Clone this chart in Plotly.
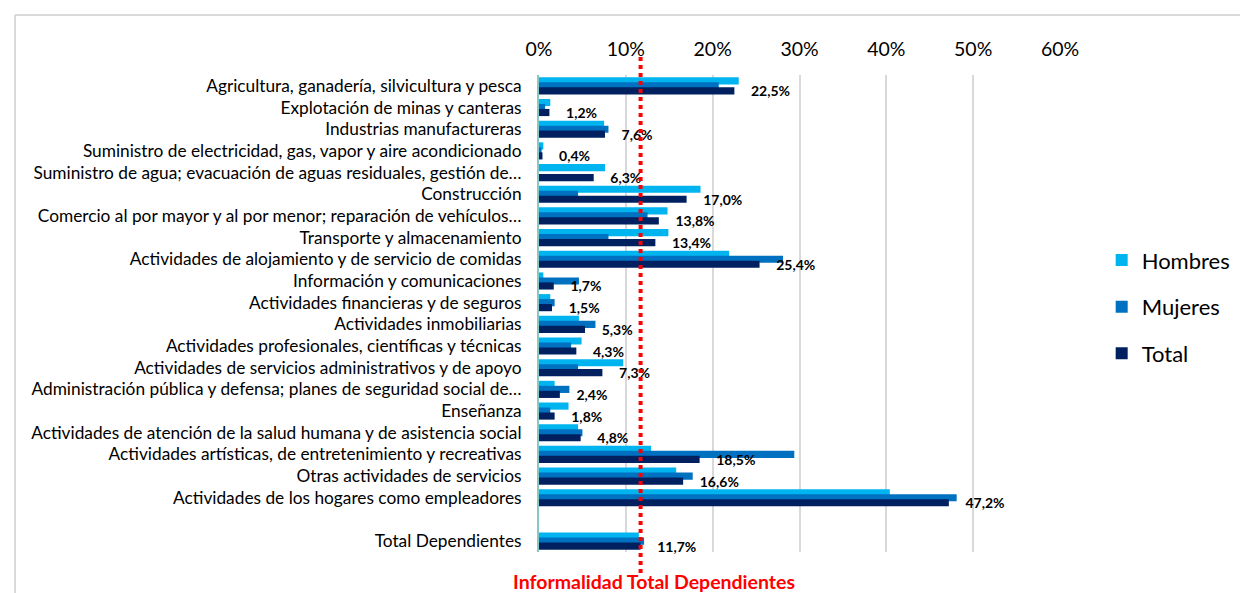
import plotly.graph_objects as go

# Informalidad por rama de actividad (%), dependientes
CATEGORIAS = [
    "Agricultura, ganadería, silvicultura y pesca",
    "Explotación de minas y canteras",
    "Industrias manufactureras",
    "Suministro de electricidad, gas, vapor y aire acondicionado",
    "Suministro de agua; evacuación de aguas residuales, gestión de…",
    "Construcción",
    "Comercio al por mayor y al por menor; reparación de vehículos…",
    "Transporte y almacenamiento",
    "Actividades de alojamiento y de servicio de comidas",
    "Información y comunicaciones",
    "Actividades financieras y de seguros",
    "Actividades inmobiliarias",
    "Actividades profesionales, científicas y técnicas",
    "Actividades de servicios administrativos y de apoyo",
    "Administración pública y defensa; planes de seguridad social de…",
    "Enseñanza",
    "Actividades de atención de la salud humana y de asistencia social",
    "Actividades artísticas, de entretenimiento y recreativas",
    "Otras actividades de servicios",
    "Actividades de los hogares como empleadores",
    "Total Dependientes",
]
HOMBRES = [23.0, 1.3, 7.5, 0.5, 7.6, 18.6, 14.8, 14.9, 21.9, 0.5, 1.3,
           4.6, 4.9, 9.7, 1.8, 3.4, 4.5, 12.9, 15.8, 40.4, 11.5]
MUJERES = [20.7, 0.7, 8.0, 0.3, 0.0, 4.5, 12.5, 8.0, 28.1, 4.6, 1.8,
           6.5, 3.7, 4.5, 3.5, 1.3, 5.0, 29.4, 17.7, 48.1, 12.1]
TOTAL = [22.5, 1.2, 7.6, 0.4, 6.3, 17.0, 13.8, 13.4, 25.4, 1.7, 1.5,
         5.3, 4.3, 7.3, 2.4, 1.8, 4.8, 18.5, 16.6, 47.2, 11.7]
INFORMALIDAD_TOTAL = 11.7
TICKS = [0, 10, 20, 30, 40, 50, 60]

_FONT = "Lato, 'Open Sans', sans-serif"
_H_COLOR = "#00B4F0"
_M_COLOR = "#0070C0"
_T_COLOR = "#002060"
_GRID = "#D9D9D9"

# orden del eje: una fila vacía antes del total
orden = CATEGORIAS[:-1] + [" ", CATEGORIAS[-1]]

BAR_W = 0.33   # grosor de barra (unidades de categoría)
STEP = 0.23    # separación entre series (se solapan)


def _bar(vals, name, color, k, **kw):
    return go.Bar(
        x=vals,
        y=CATEGORIAS,
        orientation="h",
        name=name,
        legendgroup=name,
        marker=dict(color=color, line=dict(width=0)),
        width=BAR_W,
        offset=k * STEP - BAR_W / 2,
        hovertemplate="%{y}<br>" + name + ": %{x:.1f}%<extra></extra>",
        **kw,
    )


fig = go.Figure()
fig.add_trace(_bar(HOMBRES, "Hombres", _H_COLOR, -1))
fig.add_trace(_bar(MUJERES, "Mujeres", _M_COLOR, 0))
fig.add_trace(
    _bar(
        TOTAL, "Total", _T_COLOR, 1,
        text=[f"{v:.1f}%".replace(".", ",") for v in TOTAL],
        texttemplate="\u00a0\u00a0\u00a0\u00a0%{text}",
        textposition="outside",
        constraintext="none",
        cliponaxis=False,
        textfont=dict(family=_FONT, size=14, color="#000000", weight="bold"),
    )
)

# línea de informalidad total
fig.add_shape(
    type="line", xref="x", yref="paper",
    x0=INFORMALIDAD_TOTAL, x1=INFORMALIDAD_TOTAL, y0=-0.044, y1=1.038,
    line=dict(color="#FF0000", width=4, dash="dot"),
    layer="above",
)
fig.add_annotation(
    x=INFORMALIDAD_TOTAL, xref="x", y=-0.061, yref="paper",
    text="<b>Informalidad Total Dependientes</b>",
    showarrow=False, xanchor="center", yanchor="middle", xshift=13,
    font=dict(family=_FONT, size=19.5, color="#FF0000"),
)

# marco exterior del gráfico (borde superior e izquierdo)
fig.add_shape(
    type="line", xref="paper", yref="paper",
    x0=-1.0057, x1=1.5, y0=1.1258, y1=1.1258,
    line=dict(color=_GRID, width=2), layer="below",
)
fig.add_shape(
    type="line", xref="paper", yref="paper",
    x0=-1.0057, x1=-1.0057, y0=-0.2, y1=1.1258,
    line=dict(color=_GRID, width=2), layer="below",
)

# la página deja 8 px de margen alrededor del gráfico
fig.update_layout(
    width=1240,
    height=585,
    barmode="overlay",
    plot_bgcolor="white",
    paper_bgcolor="white",
    margin=dict(l=531, r=184, t=67, b=41),
    font=dict(family=_FONT, color="#000000"),
    xaxis=dict(
        side="top",
        range=[0, 60],
        tickvals=TICKS,
        ticktext=[f"{t}%" for t in TICKS],
        showgrid=True,
        gridcolor=_GRID,
        gridwidth=2,
        zeroline=False,
        showline=False,
        ticks="",
        ticklabelstandoff=14,
        tickfont=dict(size=19.5),
        fixedrange=True,
    ),
    yaxis=dict(
        categoryorder="array",
        categoryarray=orden,
        autorange="reversed",
        showgrid=False,
        zeroline=False,
        showline=True,
        linecolor="#86C8C3",
        linewidth=2,
        ticks="",
        ticklabelstandoff=12,
        tickfont=dict(size=17.3),
        fixedrange=True,
    ),
    legend=dict(
        x=1.08, xanchor="left",
        y=0.514, yanchor="middle",
        traceorder="grouped",
        tracegroupgap=15,
        font=dict(size=22),
        bgcolor="rgba(0,0,0,0)",
    ),
    showlegend=True,
)

fig.write_html("out.html")
